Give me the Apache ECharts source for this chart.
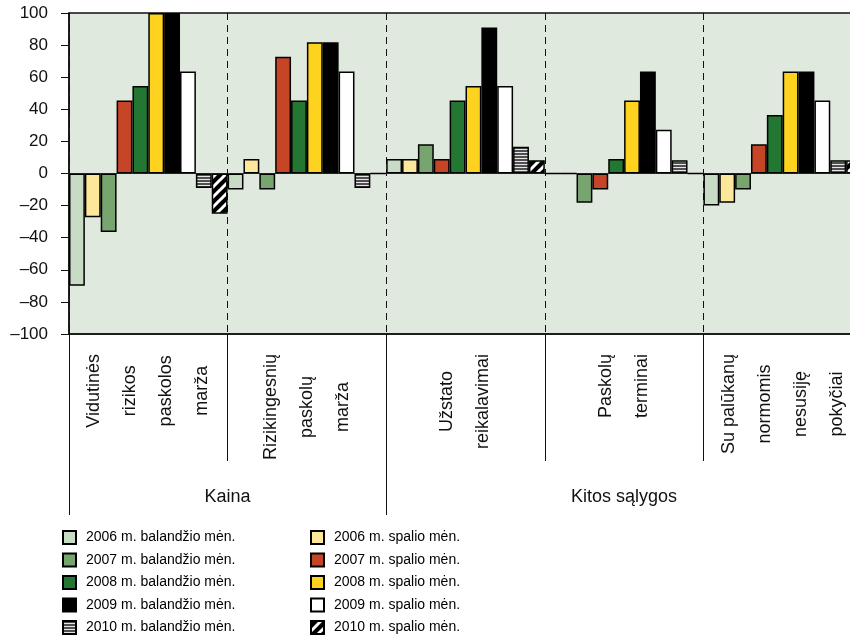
<!DOCTYPE html>
<html>
<head>
<meta charset="utf-8">
<script src="https://cdn.jsdelivr.net/npm/echarts@6/dist/echarts.min.js"></script>
<style>
html,body{margin:0;padding:0;background:#fff;overflow:hidden;width:850px;height:637px;}
#chart{width:862px;height:637px;}
</style>
</head>
<body>
<div id="chart"></div>
<script>
// ---- data ----
var categories = [
  ['Vidutinės', 'rizikos', 'paskolos', 'marža'],
  ['Rizikingesnių', 'paskolų', 'marža'],
  ['Užstato', 'reikalavimai'],
  ['Paskolų', 'terminai'],
  ['Su palūkanų', 'normomis', 'nesusiję', 'pokyčiai']
];
var groupLabels = ['Kaina', 'Kitos sąlygos'];
var seriesNames = [
  '2006 m. balandžio mėn.', '2006 m. spalio mėn.',
  '2007 m. balandžio mėn.', '2007 m. spalio mėn.',
  '2008 m. balandžio mėn.', '2008 m. spalio mėn.',
  '2009 m. balandžio mėn.', '2009 m. spalio mėn.',
  '2010 m. balandžio mėn.', '2010 m. spalio mėn.'
];
var bal2006  = [-70, -10, 9.1, 0, -20];
var spal2006 = [-27.3, 9.1, 9.1, 0, -18.2];
var bal2007  = [-36.4, -10, 18.2, -18.2, -10];
var spal2007 = [45.5, 72.7, 9.1, -10, 18.2];
var bal2008  = [54.5, 45.5, 45.5, 9.1, 36.4];
var spal2008 = [100, 81.8, 54.5, 45.5, 63.6];
var bal2009  = [100, 81.8, 90.9, 63.6, 63.6];
var spal2009 = [63.6, 63.6, 54.5, 27.3, 45.5];
var bal2010  = [-9.1, -9.1, 16.7, 8.3, 8.3];
var spal2010 = [-25, 0, 8.3, 0, 8.3];
var yTicks = [-100, -80, -60, -40, -20, 0, 20, 40, 60, 80, 100];

// ---- patterns ----
function stripePattern() {
  var c = document.createElement('canvas');
  c.width = 4; c.height = 3;
  var g = c.getContext('2d');
  g.fillStyle = '#e6e6e6'; g.fillRect(0, 0, 4, 3);
  g.fillStyle = '#505050'; g.fillRect(0, 0, 4, 2);
  return c;
}
function hatchPattern() {
  var c = document.createElement('canvas');
  c.width = 10; c.height = 10;
  var g = c.getContext('2d');
  g.fillStyle = '#000'; g.fillRect(0, 0, 10, 10);
  g.strokeStyle = '#fff'; g.lineWidth = 3;
  g.beginPath();
  g.moveTo(-2, 12); g.lineTo(12, -2);
  g.moveTo(-7, 7); g.lineTo(7, -7);
  g.moveTo(3, 17); g.lineTo(17, 3);
  g.stroke();
  return c;
}
var colors = [
  '#c8dbc4', '#fde79a', '#78a56f', '#c64527', '#247732', '#fdd31f', '#000000', '#ffffff',
  {image: stripePattern(), repeat: 'repeat'},
  {image: hatchPattern(), repeat: 'repeat'}
];
var values = [bal2006, spal2006, bal2007, spal2007, bal2008, spal2008, bal2009, spal2009, bal2010, spal2010];

var FONT = "'Liberation Sans', Arial, sans-serif";
var catNames = categories.map(function (c) { return c.join('\n'); });

var series = seriesNames.map(function (n, i) {
  return {
    name: n, type: 'bar', data: values[i],
    barGap: 0, barCategoryGap: 0,
    itemStyle: {color: colors[i], borderColor: '#000', borderWidth: 1.5},
    emphasis: {disabled: true}
  };
});

function legendCfg(idxs, left) {
  return {
    data: idxs.map(function (i) { return seriesNames[i]; }),
    orient: 'vertical', left: left, top: 530, height: 130, padding: 0,
    itemWidth: 13, itemHeight: 13, itemGap: 7.5,
    icon: 'rect', selectedMode: false,
    textStyle: {fontSize: 14, lineHeight: 13, fontFamily: FONT, color: '#000', padding: [0, 0, 0, 5]}
  };
}

var chart = echarts.init(document.getElementById('chart'), null, {renderer: 'canvas'});
chart.setOption({
  animation: false,
  backgroundColor: '#fff',
  grid: {left: 69, top: 13, right: 0, bottom: 303, show: true,
         backgroundColor: '#e0e9de', borderColor: '#111', borderWidth: 1.5},
  xAxis: [
    {
      type: 'category', data: catNames, position: 'bottom',
      axisLine: {show: true, onZero: false, lineStyle: {color: '#111', width: 1.5}},
      axisTick: {show: true, interval: 0, length: 127, lineStyle: {color: '#111', width: 1}},
      splitLine: {show: true, interval: 0, lineStyle: {color: '#111', width: 1, type: [7, 5]}},
      axisLabel: {
        interval: 0, rotate: 90, margin: 20,
        formatter: function (v) {
          return v.split('\n').map(function (l) { return '{c|' + l + '}'; }).join('\n');
        },
        rich: {c: {align: 'center', fontSize: 18, lineHeight: 36, fontFamily: FONT, color: '#111'}}
      }
    },
    {
      type: 'value', min: 0, max: 5, position: 'bottom',
      axisLine: {show: false, onZero: false},
      splitLine: {show: false},
      axisTick: {show: true, customValues: [0, 2], length: 181, lineStyle: {color: '#111', width: 1}},
      axisLabel: {
        show: true, customValues: [1, 3.5], margin: 163,
        formatter: function (v) { return v === 1 ? groupLabels[0] : (v === 3.5 ? groupLabels[1] : ''); },
        fontSize: 18, fontFamily: FONT, color: '#111', verticalAlign: 'middle'
      }
    },
    {
      type: 'category', data: catNames, position: 'bottom',
      axisLine: {show: true, onZero: true, lineStyle: {color: '#444', width: 1}},
      axisTick: {show: false}, axisLabel: {show: false}, splitLine: {show: false}
    }
  ],
  yAxis: {
    type: 'value', min: -100, max: 100, interval: 20,
    axisLine: {show: true, onZero: false, lineStyle: {color: '#111', width: 1.5}},
    axisTick: {show: true, length: 8, lineStyle: {color: '#111', width: 1}},
    splitLine: {show: false},
    axisLabel: {
      margin: 21, fontSize: 17, fontFamily: FONT, color: '#111',
      formatter: function (v) { return v < 0 ? '\u2013' + Math.abs(v) : String(v); }
    }
  },
  legend: [legendCfg([0, 2, 4, 6, 8], 62), legendCfg([1, 3, 5, 7, 9], 310)],
  series: series
});
</script>
</body>
</html>
